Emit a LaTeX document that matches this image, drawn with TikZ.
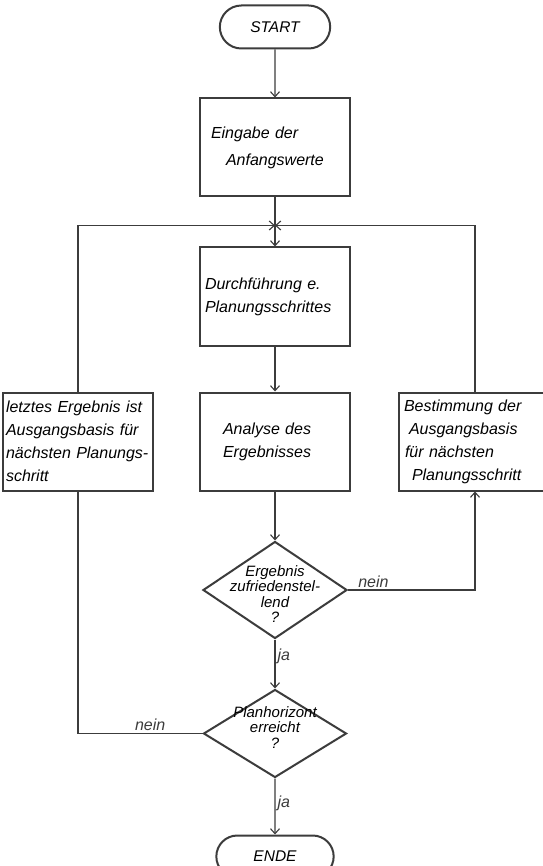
\documentclass[tikz,border=0pt]{standalone}
\usepackage{fontspec}
\setmainfont{Liberation Sans}
\usepackage{tikz}
\usetikzlibrary{arrows.meta,positioning,shapes.geometric,shapes.misc,calc}
\definecolor{ink}{HTML}{3C3C3C}
\definecolor{paper}{HTML}{FFFFFF}
\tikzset{
  proc/.style={rectangle, draw=ink, line width=2pt, fill=paper, minimum width=150pt, minimum height=98pt,
               text width=140pt, inner xsep=5pt, align=left, font=\fontsize{16}{23}\selectfont\itshape},
  term/.style={rounded rectangle, draw=ink, line width=2pt, fill=paper, minimum height=43pt,
               font=\fontsize{15.5}{18}\selectfont\itshape},
  decide/.style={diamond, draw=ink, line width=2pt, fill=paper, inner sep=0pt, minimum width=144pt, minimum height=97pt},
  dtext/.style={align=center, inner sep=0pt, font=\fontsize{15}{15.5}\selectfont\itshape},
  lbl/.style={font=\fontsize{16}{18}\selectfont\itshape, text=ink, inner sep=2pt},
  flow/.style={-{Straight Barb[length=5pt,width=9pt]}, draw=ink, line width=1.1pt},
  plain/.style={draw=ink, line width=1.1pt}
}
\begin{document}
\begin{tikzpicture}[x=1pt, y=-1pt]
  \useasboundingbox[fill=paper] (0,0) rectangle (542,866);
  \node[term, minimum width=117pt] (start) at (275,27) {START};
  \node[proc, below=48pt of start] (eingabe) {\hspace*{6pt}Eingabe der\\[4pt]\hspace*{21pt}Anfangswerte};
  \node[proc, below=49pt of eingabe] (durch) {Durchführung e.\\Planungsschrittes};
  \node[proc, below=45pt of durch] (analyse) {\hspace*{18pt}Analyse des\\\hspace*{18pt}Ergebnisses};
  \node[proc, left=45pt of analyse, inner xsep=3pt, text width=144pt] (letztes)
   {letztes Ergebnis ist\\Ausgangsbasis für\\nächsten Planungs-\\schritt};
  \node[proc, right=47pt of analyse, minimum width=152pt, text width=142pt] (bestimm)
   {Bestimmung der\\\hspace*{5pt}Ausgangsbasis\\\hspace*{1pt}für nächsten\\\hspace*{8pt}Planungsschritt};
  \node[decide, below=49pt of analyse] (test1) {};
  \node[dtext, yshift=-4pt] (test1t) at (test1) {Ergebnis\\zufriedenstel-\\lend\\?};
  \node[decide, below=49pt of test1, minimum height=88pt, minimum width=143pt] (test2) {};
  \node[dtext, yshift=6pt] (test2t) at (test2) {Planhorizont\\erreicht\\?};
  \node[term, below=56pt of test2, minimum width=124pt, minimum height=42pt] (ende) {ENDE};
  \coordinate (j) at ([yshift=-28pt]eingabe.south);
  \draw[flow] (start) -- (eingabe);
  \draw[flow] (eingabe) -- (durch);
  \draw[flow] (letztes.north) |- (j);
  \draw[flow] (bestimm.north) |- (j);
  \draw[flow] (durch) -- (analyse);
  \draw[flow] (analyse) -- (test1);
  \draw[flow] (test1.east) -| node[lbl, above, pos=0.1] (nein1) {nein} (bestimm.south);
  \draw[flow] (test1) -- node[lbl, right, pos=0.35] (ja1) {ja} (test2);
  \draw[plain] (test2.west) -| node[lbl, above, pos=0.21] (nein2) {nein} (letztes.south);
  \draw[flow] (test2) -- node[lbl, right, pos=0.45] (ja2) {ja} (ende);
\end{tikzpicture}
\end{document}
